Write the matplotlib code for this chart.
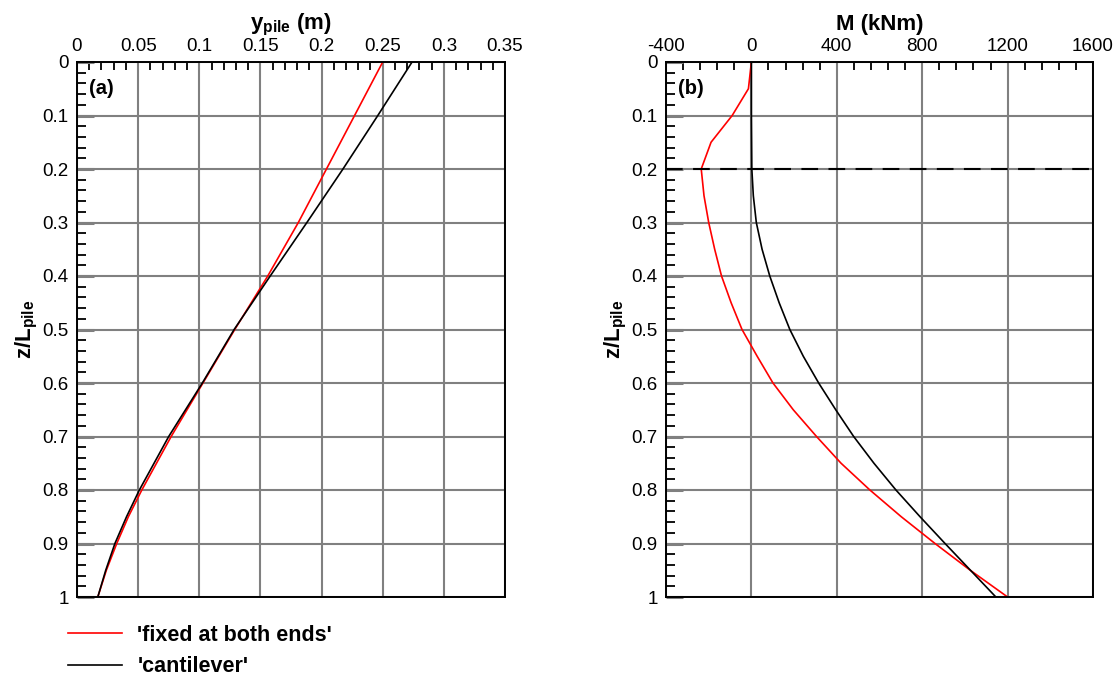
import matplotlib
matplotlib.use("Agg")
import matplotlib.pyplot as plt
from matplotlib.ticker import MultipleLocator, FixedLocator, FuncFormatter

plt.rcParams['font.family'] = ['Liberation Sans', 'DejaVu Sans']
plt.rcParams['mathtext.fontset'] = 'custom'
plt.rcParams['mathtext.rm'] = 'Liberation Sans'
plt.rcParams['mathtext.bf'] = 'Liberation Sans:bold'
plt.rcParams['mathtext.it'] = 'Liberation Sans:italic'

# ---------------- data ----------------
# panel (a): pile deflection
z_a = [0.0, 0.1, 0.2, 0.3, 0.4, 0.5, 0.6, 0.7, 0.8, 0.85, 0.9, 0.95, 1.0]
y_fixed = [0.250, 0.227, 0.204, 0.181, 0.156, 0.129, 0.103, 0.077, 0.053, 0.042, 0.0325, 0.024, 0.017]
y_cant = [0.274, 0.246, 0.2175, 0.188, 0.158, 0.1285, 0.1025, 0.075, 0.051, 0.0405, 0.031, 0.0235, 0.017]

# panel (b): bending moment
z_b = [0.0, 0.05, 0.1, 0.15, 0.2, 0.25, 0.3, 0.35, 0.4, 0.45, 0.5, 0.55, 0.6,
       0.65, 0.7, 0.75, 0.8, 0.85, 0.9, 0.95, 1.0]
M_fixed = [0, -14, -90, -189, -235, -222, -200, -172, -140, -95, -44, 27, 101,
           196, 305, 420, 555, 702, 860, 1025, 1200]
M_cant = [0, 0, 0, 1, 2, 9, 23, 50, 86, 130, 180, 243, 315,
          395, 479, 574, 677, 790, 907, 1026, 1145]

z_marker = 0.2

xticks_a = [0, 0.05, 0.1, 0.15, 0.2, 0.25, 0.3, 0.35]
xticks_b = [-400, 0, 400, 800, 1200, 1600]
zticks = [0, 0.1, 0.2, 0.3, 0.4, 0.5, 0.6, 0.7, 0.8, 0.9, 1.0]

labels = ["'fixed at both ends'", "'cantilever'"]
colors = ['#ff0000', '#000000']

# ---------------- figure ----------------
W, H = 1118, 678
fig = plt.figure(figsize=(W / 100, H / 100), dpi=100)

def px_axes(l, t, r, b):
    return fig.add_axes([l / W, 1 - b / H, (r - l) / W, (b - t) / H])

ax_a = px_axes(77, 62, 505, 597)
ax_b = px_axes(666, 62, 1093, 597)

grid_c = '#808080'
fmt = FuncFormatter(lambda v, p: ('%g' % round(v, 4)))

def style(ax, xticks, xminor, xlabel, tag):
    ax.set_ylim(1, 0)
    ax.set_xlim(xticks[0], xticks[-1])
    ax.xaxis.tick_top()
    ax.xaxis.set_label_position('top')
    ax.xaxis.set_major_locator(FixedLocator(xticks))
    ax.xaxis.set_minor_locator(MultipleLocator(xminor))
    ax.yaxis.set_major_locator(FixedLocator(zticks))
    ax.yaxis.set_minor_locator(MultipleLocator(0.02))
    ax.xaxis.set_major_formatter(fmt)
    ax.yaxis.set_major_formatter(fmt)
    ax.grid(which='major', color=grid_c, lw=1.5)
    ax.set_axisbelow(True)
    ax.tick_params(axis='x', which='major', direction='in', length=0,
                   top=True, bottom=False, labeltop=True, labelbottom=False,
                   labelsize=13.5, pad=5)
    ax.tick_params(axis='x', which='minor', direction='in', length=6, width=1.3,
                   color='black', top=True, bottom=False)
    ax.tick_params(axis='y', which='major', direction='in', length=12, width=2.2,
                   color=grid_c, left=True, right=False, labelsize=13.5, pad=6)
    ax.tick_params(axis='y', which='minor', direction='in', length=6.5, width=1.3,
                   color='black', left=True, right=False)
    for s in ax.spines.values():
        s.set_linewidth(1.4)
        s.set_color('black')
        s.set_zorder(5)
    ax.set_xlabel(xlabel, fontsize=16, fontweight='bold', labelpad=6)
    ax.set_ylabel(r'z/L$_{\mathbf{pile}}$', fontsize=16, fontweight='bold', labelpad=2)
    ax.text(0.028, 0.95, tag, transform=ax.transAxes, fontsize=14.5, fontweight='bold',
            ha='left', va='center')

style(ax_a, xticks_a, 0.01, r'y$_{\mathbf{pile}}$ (m)', '(a)')
style(ax_b, xticks_b, 80, 'M (kNm)', '(b)')

l1, = ax_a.plot(y_fixed, z_a, color=colors[0], lw=1.2, zorder=3)
l2, = ax_a.plot(y_cant, z_a, color=colors[1], lw=1.2, zorder=3)
ax_b.plot(M_fixed, z_b, color=colors[0], lw=1.2, zorder=3)
ax_b.plot(M_cant, z_b, color=colors[1], lw=1.2, zorder=3)
ax_b.axhline(z_marker, color='black', lw=1.5, ls=(0, (8, 5)), zorder=4)

fig.legend([l1, l2], labels, loc='center left',
           bbox_to_anchor=(68 / W, 1 - 651 / H), frameon=False,
           prop={'weight': 'bold', 'size': 15.5}, handlelength=2.5,
           handletextpad=0.72, labelspacing=0.5, borderpad=0, borderaxespad=0)

fig.savefig('out.png', dpi=100)
